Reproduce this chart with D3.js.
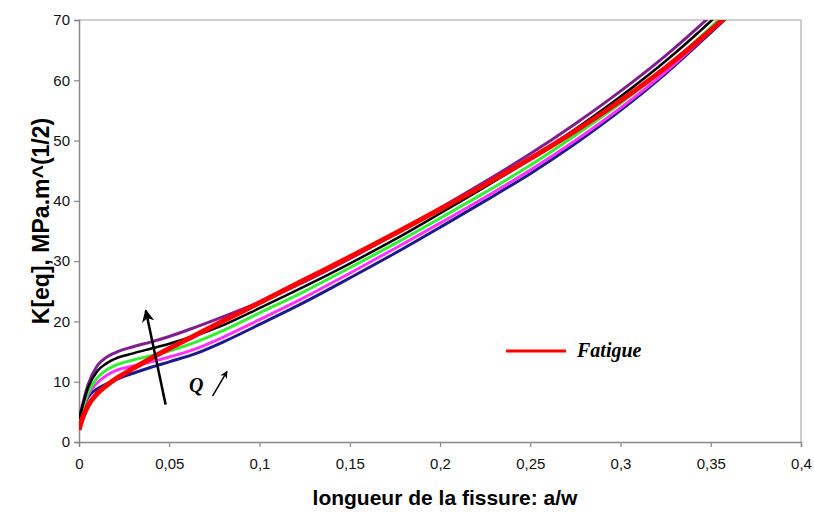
<!DOCTYPE html>
<html>
<head>
<meta charset="utf-8">
<script src="https://cdn.jsdelivr.net/npm/d3@7"></script>
<style>
  body { margin: 0; background: #fff; }
  svg { display: block; }
</style>
</head>
<body>
<div id="container"></div>
<script>
/* CONSTANTS AND GLOBALS */
const width = 814,
  height = 512,
  margin = { top: 20, bottom: 70, left: 79, right: 12 };

// crack length a/w, shared by every series
const aGrid = [0, 0.002, 0.005, 0.01, 0.015, 0.02, 0.03, 0.04, 0.05, 0.065, 0.08,
  0.1, 0.125, 0.15, 0.175, 0.2, 0.225, 0.25, 0.275, 0.3, 0.325, 0.35, 0.36];

// K[eq] values, MPa.m^(1/2)
const kBlue    = [3.5, 5.3, 7.4, 8.8, 9.6, 10.3, 11.4, 12.4, 13.3, 14.7, 16.6,
  19.5, 23.2, 27.2, 31.3, 35.6, 40.0, 44.5, 49.5, 55.0, 61.1, 67.9, 70.7];
const kMagenta = [3.5, 5.4, 7.8, 9.8, 11.0, 11.8, 12.6, 13.3, 14.1, 15.5, 17.4,
  20.3, 24.0, 28.0, 32.1, 36.3, 40.6, 45.1, 50.0, 55.4, 61.4, 68.2, 71.1];
const kGreen   = [3.6, 5.6, 8.2, 10.6, 11.9, 12.7, 13.6, 14.3, 15.1, 16.6, 18.5,
  21.4, 25.0, 28.9, 32.9, 37.1, 41.4, 45.9, 50.9, 56.2, 62.1, 68.8, 71.6];
const kBlack   = [3.8, 6.0, 9.0, 11.7, 13.0, 13.8, 14.7, 15.5, 16.3, 17.7, 19.4,
  22.2, 25.8, 29.6, 33.6, 37.9, 42.3, 46.9, 51.9, 57.3, 63.2, 69.8, 72.6];
const kPurple  = [3.8, 6.3, 9.5, 12.6, 14.0, 14.8, 15.8, 16.6, 17.5, 19.1, 20.8,
  23.2, 26.6, 30.4, 34.5, 38.8, 43.2, 47.8, 52.8, 58.2, 64.1, 70.7, 73.5];
const kFatigue = [2.0, 4.0, 6.0, 8.0, 9.3, 10.4, 12.2, 13.9, 15.5, 17.8, 20.1,
  23.1, 26.9, 30.7, 34.6, 38.6, 42.7, 47.0, 51.6, 56.6, 62.1, 68.3, 71.0];

const xTicks = [0, 0.05, 0.1, 0.15, 0.2, 0.25, 0.3, 0.35, 0.4];
const yTicks = [0, 10, 20, 30, 40, 50, 60, 70];

const seriesList = [
  { name: "blue", values: kBlue, color: "#1a1a8c", w: 3 },
  { name: "magenta", values: kMagenta, color: "#ff33ff", w: 3 },
  { name: "green", values: kGreen, color: "#33ee33", w: 3 },
  { name: "purple", values: kPurple, color: "#7f1f8f", w: 3 },
  { name: "black", values: kBlack, color: "#000000", w: 2.5 },
  { name: "Fatigue", values: kFatigue, color: "#ff0000", w: 5 }
];

const svg = d3.select("#container")
  .append("svg")
  .attr("width", width)
  .attr("height", height);

// SCALES
const xScale = d3.scaleLinear()
  .domain([0, 0.4])
  .range([margin.left, width - margin.right - 1]);

const yScale = d3.scaleLinear()
  .domain([0, 70])
  .range([height - margin.bottom, margin.top]);

const fmt = d => String(d).replace(".", ",");

// PLOT FRAME (top and right)
svg.append("path")
  .attr("d", `M${xScale(0)},${yScale(70)}H${xScale(0.4)}V${yScale(0)}`)
  .attr("fill", "none")
  .attr("stroke", "#c0c0c0")
  .attr("stroke-width", 1.5);

// AXES
const xAxis = svg.append("g")
  .attr("transform", `translate(0, ${yScale(0)})`)
  .call(d3.axisBottom(xScale).tickValues(xTicks).tickFormat(fmt).tickSizeOuter(0).tickSize(5).tickPadding(11));

const yAxis = svg.append("g")
  .attr("transform", `translate(${xScale(0)}, 0)`)
  .call(d3.axisLeft(yScale).tickValues(yTicks).tickSizeOuter(0).tickSize(5).tickPadding(4));

[xAxis, yAxis].forEach(ax => {
  ax.select(".domain").attr("stroke", "#888").attr("stroke-width", 1.5);
  ax.selectAll(".tick line").attr("stroke", "#888").attr("stroke-width", 1.2);
  ax.selectAll(".tick text")
    .style("font-family", "Arial, 'Liberation Sans', sans-serif")
    .style("font-size", "15px")
    .attr("fill", "#111");
});

// AXIS TITLES
svg.append("text")
  .attr("x", 445)
  .attr("y", 505)
  .attr("text-anchor", "middle")
  .style("font-family", "Arial, 'Liberation Sans', sans-serif")
  .style("font-size", "21px")
  .style("font-weight", "bold")
  .text("longueur de la fissure: a/w");

svg.append("text")
  .attr("transform", "translate(49, 221) rotate(-90)")
  .attr("text-anchor", "middle")
  .style("font-family", "Arial, 'Liberation Sans', sans-serif")
  .style("font-size", "23px")
  .style("font-weight", "bold")
  .text("K[eq], MPa.m^(1/2)");

// CLIP TO PLOT AREA
svg.append("clipPath")
  .attr("id", "plot-clip")
  .append("rect")
  .attr("x", xScale(0))
  .attr("y", yScale(70))
  .attr("width", xScale(0.4) - xScale(0))
  .attr("height", yScale(0) - yScale(70));

// LINES
const lineGen = d3.line()
  .x((d, i) => xScale(aGrid[i]))
  .y(d => yScale(d))
  .curve(d3.curveMonotoneX);

svg.append("g")
  .attr("clip-path", "url(#plot-clip)")
  .selectAll("path.series")
  .data(seriesList)
  .join("path")
  .attr("class", "series")
  .attr("d", d => lineGen(d.values))
  .attr("fill", "none")
  .attr("stroke", d => d.color)
  .attr("stroke-width", d => d.w)
  .attr("stroke-linejoin", "round");

// ANNOTATIONS
svg.append("defs").append("marker")
  .attr("id", "arrow")
  .attr("viewBox", "0 0 10 10")
  .attr("refX", 9)
  .attr("refY", 5)
  .attr("markerWidth", 5)
  .attr("markerHeight", 5)
  .attr("orient", "auto")
  .append("path")
  .attr("d", "M0,0L10,5L0,10L3,5Z")
  .attr("fill", "#000");

svg.append("line")
  .attr("x1", xScale(0.048)).attr("y1", yScale(6.2))
  .attr("x2", xScale(0.037)).attr("y2", yScale(21.8))
  .attr("stroke", "#000")
  .attr("stroke-width", 2.5)
  .attr("marker-end", "url(#arrow)");

svg.append("text")
  .attr("x", xScale(0.061))
  .attr("y", yScale(8.3))
  .style("font-family", "'Liberation Serif', 'DejaVu Serif', serif")
  .style("font-size", "20px")
  .style("font-weight", "bold")
  .style("font-style", "italic")
  .text("Q");

svg.append("line")
  .attr("x1", xScale(0.074)).attr("y1", yScale(7.6))
  .attr("x2", xScale(0.082)).attr("y2", yScale(11.7))
  .attr("stroke", "#000")
  .attr("stroke-width", 1.5)
  .attr("marker-end", "url(#arrow)");

// LEGEND
const legend = svg.append("g")
  .attr("transform", "translate(506, 351)");

legend.append("line")
  .attr("x1", 0).attr("x2", 60)
  .attr("y1", 0).attr("y2", 0)
  .attr("stroke", "#ff0000")
  .attr("stroke-width", 3);

legend.append("text")
  .attr("x", 71)
  .attr("y", 6)
  .style("font-family", "'Liberation Serif', 'DejaVu Serif', serif")
  .style("font-size", "20px")
  .style("font-weight", "bold")
  .style("font-style", "italic")
  .text("Fatigue");
</script>
</body>
</html>
